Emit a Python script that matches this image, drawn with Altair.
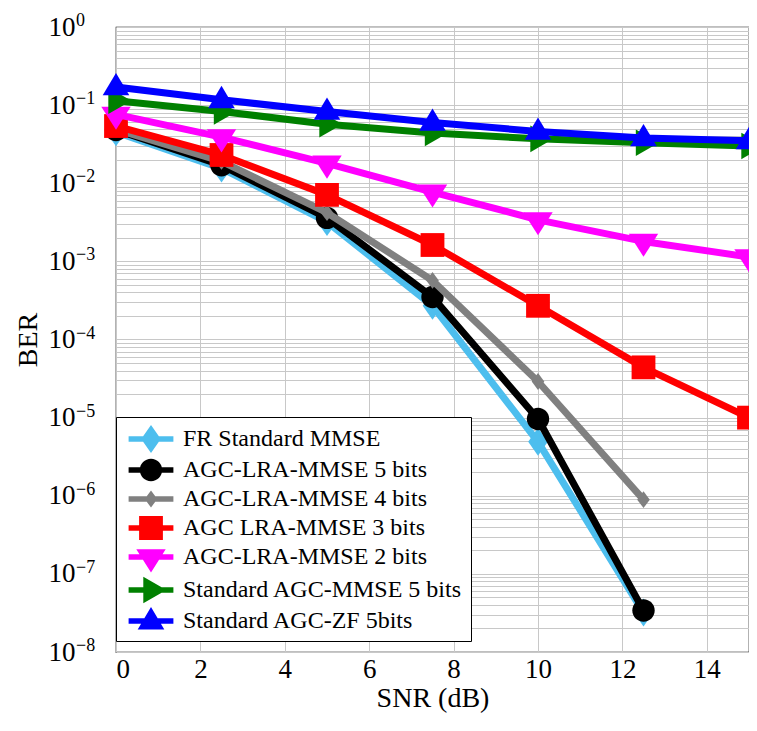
import altair as alt
import pandas as pd

snr = [0, 2.5, 5, 7.5, 10, 12.5, 15]
series_names = [
    "FR Standard MMSE",
    "AGC-LRA-MMSE 5 bits",
    "AGC-LRA-MMSE 4 bits",
    "AGC LRA-MMSE 3 bits",
    "AGC-LRA-MMSE 2 bits",
    "Standard AGC-MMSE 5 bits",
    "Standard AGC-ZF 5bits",
]
fr_mmse = [0.045, 0.0155, 0.0032, 0.00027, 4.9e-6, 3.2e-8]
agc_lra_5 = [0.048, 0.017, 0.0036, 0.00035, 9.6e-6, 3.4e-8]
agc_lra_4 = [0.049, 0.019, 0.0042, 0.00057, 2.9e-5, 8.9e-7]
agc_lra_3 = [0.054, 0.023, 0.0071, 0.00162, 0.00027, 4.4e-5, 1.0e-5]
agc_lra_2 = [0.076, 0.039, 0.018, 0.0077, 0.0034, 0.0018, 0.00114]
std_agc_mmse = [0.114, 0.083, 0.057, 0.044, 0.037, 0.033, 0.030]
std_agc_zf = [0.171, 0.117, 0.083, 0.060, 0.046, 0.038, 0.035]

decades = [1e0, 1e-1, 1e-2, 1e-3, 1e-4, 1e-5, 1e-6, 1e-7, 1e-8]
exponents = ["0", "−1", "−2", "−3", "−4", "−5", "−6", "−7", "−8"]
x_ticks = [0, 2, 4, 6, 8, 10, 12, 14]

colors = ["#4DBEEE", "#000000", "#808080", "#FF0000", "#FF00FF", "#008000", "#0000FF"]

# marker shapes (unit = half of sqrt(size)), all drawn clockwise
markers = [
    "M0,-1L0.7,0L0,1L-0.7,0Z",
    "M-0.8,0A0.8,0.8,0,1,1,0.8,0A0.8,0.8,0,1,1,-0.8,0Z",
    "M0,-0.6L0.45,0L0,0.6L-0.45,0Z",
    "M-0.85,-0.85H0.85V0.85H-0.85Z",
    "M-1.05,-0.55L1.05,-0.55L0,1.1Z",
    "M-0.55,-0.95L1.1,0L-0.55,0.95Z",
    "M-0.95,0.6L0,-1.0L0.95,0.6Z",
]
bar = "M-1.6,-0.2H1.6V0.2H-1.6Z"
legend_shapes = [bar + m for m in markers]

all_vals = [fr_mmse, agc_lra_5, agc_lra_4, agc_lra_3, agc_lra_2, std_agc_mmse, std_agc_zf]
rows = []
for name, vals in zip(series_names, all_vals):
    for x, v in zip(snr, vals):
        rows.append({"series": name, "snr": x, "ber": v})
df = pd.DataFrame(rows)
dec_df = pd.DataFrame({"ber": decades, "exp": exponents})

font = "Liberation Serif"
y_ticks = [1.0]
for e in range(-8, 0):
    for k in range(1, 10):
        y_ticks.append(k * 10.0 ** e)
y_ticks = sorted(y_ticks)
label_expr = (
    "abs(log(datum.value)/LN10 - round(log(datum.value)/LN10)) < 0.001 ? '10' : ''"
)

x_scale = alt.Scale(domain=[0, 15], nice=False)
y_scale = alt.Scale(type="log", domain=[1e-8, 1], nice=False)

x_enc = alt.X(
    "snr:Q",
    scale=x_scale,
    axis=alt.Axis(
        title="SNR (dB)", values=x_ticks, grid=True,
        gridColor="#c8c8c8", ticks=False, domain=False, labelFont=font,
        labelFontSize=27, labelColor="black", titleFont=font, titleFontSize=28,
        titleFontWeight="normal", titleColor="black", labelPadding=4, titlePadding=2,
    ),
)
y_enc = alt.Y(
    "ber:Q",
    scale=y_scale,
    axis=alt.Axis(
        title="BER", values=y_ticks, labelExpr=label_expr, grid=True,
        gridColor="#c8c8c8", ticks=False, domain=False, labelOverlap=False,
        labelFont=font, labelFontSize=27, labelColor="black", titleFont=font,
        titleFontSize=28, titleFontWeight="normal", titleColor="black",
        labelPadding=41, titlePadding=6, labelFlush=False, labelBaseline="middle",
    ),
)

layers = []
for i, name in enumerate(series_names):
    base = alt.Chart(df).transform_filter(alt.datum.series == name)
    layers.append(
        base.mark_line(color=colors[i], strokeWidth=7, strokeJoin="round")
        .encode(x=x_enc, y=y_enc)
    )
    layers.append(
        base.mark_point(filled=True, shape=markers[i], size=784, color=colors[i],
                        opacity=1, strokeWidth=0)
        .encode(x=x_enc, y=y_enc)
    )

exp_layer = (
    alt.Chart(dec_df)
    .mark_text(align="left", baseline="middle", font=font, fontSize=18,
               color="black", dy=-6)
    .encode(x=alt.value(-40), y=alt.Y("ber:Q", scale=y_scale), text="exp:N")
)

legend_props = dict(
    title=None, orient="none", legendX=0, legendY=390,
    fillColor="white", strokeColor="black", padding=8,
    symbolSize=784, symbolOffset=13, labelOffset=18,
    labelFont=font, labelFontSize=24, labelColor="black",
    rowPadding=3, symbolStrokeWidth=0, labelLimit=500,
    cornerRadius=0,
)
legend_layer = (
    alt.Chart(df)
    .transform_filter("false")
    .mark_point(filled=True, size=784, opacity=1, strokeWidth=0)
    .encode(
        x=x_enc,
        y=y_enc,
        color=alt.Color(
            "series:N",
            scale=alt.Scale(domain=series_names, range=colors),
            legend=alt.Legend(**legend_props),
        ),
        shape=alt.Shape(
            "series:N",
            scale=alt.Scale(domain=series_names, range=legend_shapes),
            legend=alt.Legend(**legend_props),
        ),
    )
)

chart = (
    alt.layer(*layers, exp_layer, legend_layer)
    .properties(
        width=633, height=625,
        autosize=alt.AutoSizeParams(type="none"),
        padding={"left": 108, "top": 19, "right": 0, "bottom": 62},
        background="white",
    )
    .configure_view(stroke="black", strokeWidth=1.2)
)

chart.save("out.html", embed_options={"renderer": "svg", "actions": False})
